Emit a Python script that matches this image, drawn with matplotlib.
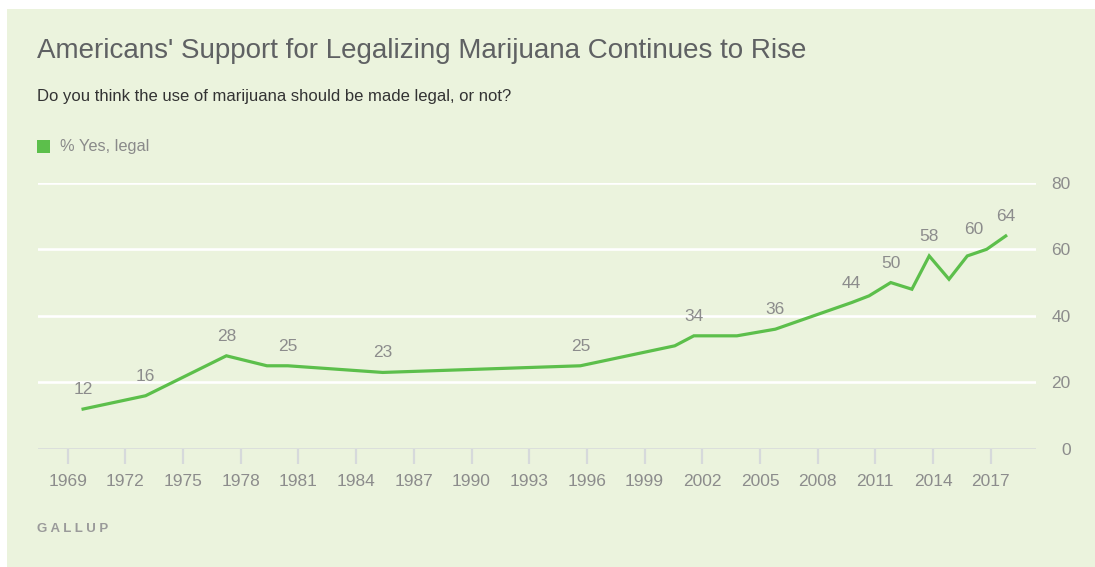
import matplotlib.pyplot as plt
from matplotlib.patches import Rectangle

# survey dates (fractional years) and % yes, legal
years = [1969.8, 1973.05, 1977.25, 1979.36, 1980.45, 1985.38, 1995.66, 2000.57, 2001.56, 2003.8,
         2005.8, 2009.77, 2010.67, 2011.8, 2012.9, 2013.8, 2014.83, 2015.78, 2016.79, 2017.78]
yes_legal = [12, 16, 28, 25, 25, 23, 25, 31, 34, 34, 36, 44, 46, 50, 48, 58, 51, 58, 60, 64]
labeled = [0, 1, 2, 4, 5, 6, 8, 10, 11, 13, 15, 18, 19]
x_ticks = list(range(1969, 2018, 3))
y_ticks = [0, 20, 40, 60, 80]

title = "Americans' Support for Legalizing Marijuana Continues to Rise"
subtitle = "Do you think the use of marijuana should be made legal, or not?"
legend_label = "% Yes, legal"

W, H = 1095, 567
bg = '#ebf3dd'
green = '#5cbf4b'
grey_txt = '#8c8c8c'

plt.rcParams['font.family'] = ['Liberation Sans', 'DejaVu Sans']

fig = plt.figure(figsize=(W / 100, H / 100), dpi=100, facecolor='white')
fig.patches.append(Rectangle((7 / W, 0), 1, 1 - 9 / H, transform=fig.transFigure,
                             facecolor=bg, edgecolor='none', zorder=-10))

ax = fig.add_axes([37.7 / W, 1 - 449 / H, (1036 - 37.7) / W, (449 - 182.7) / H])
ax.set_zorder(2)
ax.set_facecolor('none')
ax.set_xlim(1969 - 30 / 19.23, 1969 + (1036 - 67.7) / 19.23)
ax.set_ylim(0, 80)

for y in y_ticks[1:]:
    ax.axhline(y, color='white', lw=1.9, zorder=1)
ax.axhline(0, color='#d6d9db', lw=1.8, zorder=1)

ax.plot(years, yes_legal, color=green, lw=2.3, zorder=3, solid_joinstyle='miter')

for i in labeled:
    dx = -9 if yes_legal[i] == 60 else 0
    ax.annotate(str(yes_legal[i]), (years[i], yes_legal[i]), xytext=(dx, 14),
                textcoords='offset points', ha='center', va='center',
                fontsize=12.5, color=grey_txt)

for s in ax.spines.values():
    s.set_visible(False)

ax.set_xticks(x_ticks)
ax.tick_params(axis='x', length=11, width=1.6, color='#d6d9db', pad=7,
               labelsize=12.5, labelcolor=grey_txt)
ax.yaxis.tick_right()
ax.set_yticks(y_ticks)
ax.tick_params(axis='y', length=0, pad=25, labelsize=12.5, labelcolor=grey_txt)
for lab in ax.get_yticklabels():
    lab.set_horizontalalignment('right')

fig.text(37 / W, 1 - 51 / H, title, fontsize=20, color='#5f6163', va='center')
fig.text(37 / W, 1 - 96 / H, subtitle, fontsize=12, color='#333333', va='center')
fig.patches.append(Rectangle((37 / W, 1 - 153 / H), 13 / W, 13 / H, transform=fig.transFigure,
                             facecolor=green, edgecolor='none'))
fig.text(60 / W, 1 - 146.5 / H, legend_label, fontsize=11.8, color='#8a8a8a', va='center')
fig.text(37 / W, 1 - 529 / H, 'G A L L U P', fontsize=9.5, color='#9a9a9a',
         fontweight='bold', va='center')

fig.savefig('out.png', dpi=100, facecolor='white')
